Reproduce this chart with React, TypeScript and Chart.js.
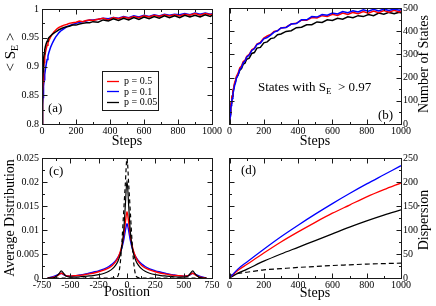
import React, { useEffect, useRef } from 'react';
import { Chart, registerables } from 'chart.js';
Chart.register(...registerables);

const SERIF = "'Liberation Serif', 'DejaVu Serif', serif";
const RED = '#ff0000';
const BLUE = '#0000ff';
const BLACK = '#000000';
const seriesLabels = ['p = 0.5', 'p = 0.1', 'p = 0.05'];

// ---- (a) and (b): time series ----
const steps = [0, 2, 4, 6, 8, 10, 13, 16, 20, 25, 30, 35, 40, 50, 60, 70, 80, 90, 100, 115, 130, 145, 160, 180, 200, 220, 240, 260, 280, 300, 330, 360, 390, 420, 450, 480, 510, 540, 570, 600, 630, 660, 690, 720, 750, 780, 810, 840, 870, 900, 930, 960, 990, 1000];

const entropyP05 = [0.800, 0.830, 0.856, 0.873, 0.886, 0.896, 0.907, 0.916, 0.924, 0.931, 0.937, 0.941, 0.945, 0.951, 0.956, 0.960, 0.963, 0.966, 0.968, 0.970, 0.972, 0.973, 0.975, 0.976, 0.977, 0.979, 0.978, 0.980, 0.981, 0.980, 0.982, 0.984, 0.981, 0.985, 0.983, 0.986, 0.984, 0.987, 0.985, 0.988, 0.986, 0.989, 0.987, 0.990, 0.988, 0.990, 0.988, 0.991, 0.989, 0.992, 0.989, 0.992, 0.990, 0.991];
const entropyP01 = [0.800, 0.818, 0.833, 0.846, 0.857, 0.866, 0.877, 0.886, 0.895, 0.904, 0.912, 0.918, 0.924, 0.933, 0.940, 0.946, 0.951, 0.955, 0.959, 0.963, 0.966, 0.969, 0.971, 0.973, 0.975, 0.977, 0.978, 0.979, 0.981, 0.981, 0.982, 0.984, 0.983, 0.985, 0.984, 0.987, 0.985, 0.988, 0.986, 0.989, 0.987, 0.990, 0.988, 0.991, 0.989, 0.991, 0.990, 0.992, 0.990, 0.993, 0.991, 0.993, 0.991, 0.992];
const entropyP005 = [0.800, 0.845, 0.873, 0.891, 0.904, 0.913, 0.922, 0.929, 0.935, 0.940, 0.944, 0.947, 0.950, 0.953, 0.956, 0.958, 0.960, 0.962, 0.964, 0.966, 0.968, 0.969, 0.970, 0.972, 0.972, 0.974, 0.975, 0.976, 0.976, 0.978, 0.977, 0.981, 0.979, 0.983, 0.980, 0.984, 0.981, 0.985, 0.982, 0.986, 0.983, 0.987, 0.984, 0.988, 0.985, 0.988, 0.985, 0.989, 0.986, 0.989, 0.986, 0.990, 0.987, 0.989];

const statesP05 = [0, 22, 42, 60, 76, 90, 110, 121, 142, 158, 178, 188, 205, 219, 242, 250, 269, 274, 291, 300, 320, 327, 345, 352, 370, 380, 386, 399, 402, 414, 417, 431, 434, 448, 447, 459, 457, 467, 463, 473, 468, 478, 472, 481, 475, 485, 478, 487, 480, 489, 482, 490, 483, 487];
const statesP01 = [0, 18, 36, 52, 67, 80, 99, 110, 131, 146, 167, 178, 196, 211, 235, 244, 264, 270, 288, 297, 317, 324, 342, 349, 367, 373, 383, 396, 402, 414, 416, 431, 433, 449, 449, 463, 461, 472, 469, 478, 474, 485, 480, 488, 483, 492, 486, 494, 487, 495, 489, 496, 490, 494];
const statesP005 = [0, 24, 45, 63, 78, 92, 111, 121, 141, 155, 174, 183, 199, 211, 232, 239, 258, 262, 279, 284, 304, 308, 327, 330, 350, 354, 368, 371, 385, 388, 399, 402, 415, 417, 428, 428, 440, 438, 449, 446, 456, 452, 462, 458, 467, 463, 472, 467, 478, 473, 481, 475, 482, 478];

const stepTicks = [0, 200, 400, 600, 800, 1000];
const entropyTicks = [0.8, 0.85, 0.9, 0.95, 1];
const statesTicks = [0, 100, 200, 300, 400, 500];

// ---- (c): distribution over positions ----
const positions = [-700, -660, -640, -620, -600, -580, -560, -540, -500, -450, -400, -350, -300, -250, -200, -160, -130, -100, -80, -60, -45, -30, -15, 0, 15, 30, 45, 60, 80, 100, 130, 160, 200, 250, 300, 350, 400, 450, 500, 540, 560, 580, 600, 620, 640, 660, 700];
const distP05 = [0, 0.0001, 0.0002, 0.0004, 0.0007, 0.0010, 0.0008, 0.0005, 0.0004, 0.0005, 0.0006, 0.0008, 0.0010, 0.0013, 0.0017, 0.0021, 0.0026, 0.0034, 0.0042, 0.0054, 0.0068, 0.0088, 0.0115, 0.0138, 0.0115, 0.0088, 0.0068, 0.0054, 0.0042, 0.0034, 0.0026, 0.0021, 0.0017, 0.0013, 0.0010, 0.0008, 0.0006, 0.0005, 0.0004, 0.0005, 0.0008, 0.0010, 0.0007, 0.0004, 0.0002, 0.0001, 0];
const distP01 = [0, 0.0002, 0.0004, 0.0006, 0.0008, 0.0010, 0.0007, 0.0005, 0.0004, 0.0005, 0.0007, 0.0009, 0.0012, 0.0015, 0.0019, 0.0024, 0.0029, 0.0036, 0.0043, 0.0052, 0.0063, 0.0078, 0.0098, 0.0113, 0.0098, 0.0078, 0.0063, 0.0052, 0.0043, 0.0036, 0.0029, 0.0024, 0.0019, 0.0015, 0.0012, 0.0009, 0.0007, 0.0005, 0.0004, 0.0005, 0.0007, 0.0010, 0.0008, 0.0006, 0.0004, 0.0002, 0];
const distP005 = [0, 0, 0.0001, 0.0004, 0.0009, 0.0015, 0.0010, 0.0004, 0.0002, 0.0002, 0.0003, 0.0004, 0.0005, 0.0007, 0.0010, 0.0014, 0.0019, 0.0027, 0.0035, 0.0048, 0.0065, 0.0095, 0.0150, 0.0203, 0.0150, 0.0095, 0.0065, 0.0048, 0.0035, 0.0027, 0.0019, 0.0014, 0.0010, 0.0007, 0.0005, 0.0004, 0.0003, 0.0002, 0.0002, 0.0004, 0.0010, 0.0015, 0.0009, 0.0004, 0.0001, 0, 0];
const distRef = [0, 0, 0, 0, 0, 0, 0, 0, 0, 0, 0, 0, 0, 0, 0, 0, 0, 0.0001, 0.0004, 0.0030, 0.0075, 0.0135, 0.0195, 0.0250, 0.0195, 0.0135, 0.0075, 0.0030, 0.0004, 0.0001, 0, 0, 0, 0, 0, 0, 0, 0, 0, 0, 0, 0, 0, 0, 0, 0, 0];
const positionTicks = [-750, -500, -250, 0, 250, 500, 750];
const distTicks = [0, 0.005, 0.01, 0.015, 0.02, 0.025];

// ---- (d): dispersion ----
const dispSteps = [0, 50, 100, 200, 300, 400, 500, 600, 700, 800, 900, 1000];
const dispP05 = [0, 16, 28, 52, 75, 96, 116, 135, 152, 169, 184, 198];
const dispP01 = [0, 19, 33, 60, 86, 110, 133, 155, 176, 196, 215, 234];
const dispP005 = [0, 10, 18, 35, 50, 64, 78, 92, 106, 119, 131, 142];
const dispRef = [5, 9.5, 12, 17, 19.5, 22, 24, 26, 27.5, 29, 30, 31];
const dispTicks = [0, 50, 100, 150, 200, 250];

const W = 436;
const H = 306;
const X_AXIS_H = 20;
const Y_AXIS_W = 30;

type Part = { t: string; size: number; dy?: number };

function rich(ctx: CanvasRenderingContext2D, parts: Part[], x: number, y: number, align: 'left' | 'center', rotate = false) {
  ctx.save();
  ctx.translate(x, y);
  if (rotate) ctx.rotate(-Math.PI / 2);
  ctx.textAlign = 'left';
  ctx.textBaseline = 'alphabetic';
  ctx.fillStyle = '#000';
  let total = 0;
  for (const p of parts) {
    ctx.font = `${p.size}px ${SERIF}`;
    total += ctx.measureText(p.t).width;
  }
  let cx = align === 'center' ? -total / 2 : 0;
  for (const p of parts) {
    ctx.font = `${p.size}px ${SERIF}`;
    ctx.fillText(p.t, cx, p.dy || 0);
    cx += ctx.measureText(p.t).width;
  }
  ctx.restore();
}

function fmt(v: number) {
  return String(Number(Number(v).toFixed(6)));
}

function midpoints(t: number[]) {
  const r: number[] = [];
  for (let i = 0; i < t.length - 1; i++) r.push((t[i] + t[i + 1]) / 2);
  return r;
}

function series(xs: number[], ys: number[], color: string, label: string, order: number, opts: any = {}) {
  return {
    label,
    data: xs.map((x, i) => ({ x, y: ys[i] })),
    borderColor: color,
    backgroundColor: color,
    borderWidth: opts.width ?? 1.2,
    borderDash: opts.dash ?? [],
    pointRadius: 0,
    fill: false,
    tension: 0,
    cubicInterpolationMode: opts.smooth ? 'monotone' : 'default',
    order,
  };
}

type Spec = {
  area: { l: number; t: number; r: number; b: number };
  yPos: 'left' | 'right';
  xMin: number; xMax: number; yMin: number; yMax: number;
  xTicks: number[]; yTicks: number[];
  datasets: any[];
  draw: (ctx: CanvasRenderingContext2D, chart: any) => void;
};

function makeConfig(s: Spec): any {
  const pad = s.yPos === 'left'
    ? { left: s.area.l - Y_AXIS_W, right: W - s.area.r, top: s.area.t, bottom: H - s.area.b - X_AXIS_H }
    : { left: s.area.l, right: W - s.area.r - Y_AXIS_W, top: s.area.t, bottom: H - s.area.b - X_AXIS_H };
  const xMinor = midpoints(s.xTicks);
  const yMinor = midpoints(s.yTicks);
  const decor = {
    id: 'decor',
    afterDatasetsDraw(chart: any) {
      const { ctx, chartArea: ca, scales } = chart;
      const xs = scales.x;
      const ys = scales.y;
      ctx.save();
      const L = Math.floor(ca.left) + 0.5;
      const R = Math.floor(ca.right) + 0.5;
      const T = Math.floor(ca.top) + 0.5;
      const B = Math.floor(ca.bottom) + 0.5;
      ctx.strokeStyle = '#1a1a1a';
      ctx.lineWidth = 1;
      ctx.setLineDash([]);
      ctx.strokeRect(L, T, R - L, B - T);
      ctx.beginPath();
      const xt = (vals: number[], len: number) => {
        for (const v of vals) {
          const p = Math.round(xs.getPixelForValue(v)) + 0.5;
          ctx.moveTo(p, B); ctx.lineTo(p, B - len);
          ctx.moveTo(p, T); ctx.lineTo(p, T + len);
        }
      };
      const yt = (vals: number[], len: number) => {
        for (const v of vals) {
          const p = Math.round(ys.getPixelForValue(v)) + 0.5;
          ctx.moveTo(L, p); ctx.lineTo(L + len, p);
          ctx.moveTo(R, p); ctx.lineTo(R - len, p);
        }
      };
      xt(s.xTicks, 5); xt(xMinor, 2.5);
      yt(s.yTicks, 5); yt(yMinor, 2.5);
      ctx.stroke();
      s.draw(ctx, chart);
      ctx.restore();
    },
  };
  const tickFont = { family: SERIF, size: 10 };
  return {
    type: 'line',
    data: { datasets: s.datasets },
    plugins: [decor],
    options: {
      responsive: false,
      animation: false,
      events: [],
      layout: { padding: pad },
      plugins: { legend: { display: false }, tooltip: { enabled: false }, title: { display: false } },
      scales: {
        x: {
          type: 'linear', position: 'bottom', min: s.xMin, max: s.xMax,
          grid: { display: false, drawTicks: false }, border: { display: false },
          ticks: { autoSkip: false, maxRotation: 0, padding: 1, color: '#000', font: tickFont, callback: (v: any) => fmt(v) },
          afterBuildTicks: (sc: any) => { sc.ticks = s.xTicks.map((v) => ({ value: v })); },
          afterFit: (sc: any) => { sc.height = X_AXIS_H; },
        },
        y: {
          type: 'linear', position: s.yPos, min: s.yMin, max: s.yMax,
          grid: { display: false, drawTicks: false }, border: { display: false },
          ticks: { autoSkip: false, padding: s.yPos === 'left' ? 3 : 2, color: '#000', font: tickFont, callback: (v: any) => fmt(v) },
          afterBuildTicks: (sc: any) => { sc.ticks = s.yTicks.map((v) => ({ value: v })); },
          afterFit: (sc: any) => { sc.width = Y_AXIS_W; },
        },
      },
    },
  };
}

function drawLegend(ctx: CanvasRenderingContext2D, chart: any) {
  const bx = 102, by = 71, bw = 56, bh = 39;
  ctx.save();
  ctx.fillStyle = '#fff';
  ctx.fillRect(bx, by, bw, bh);
  ctx.strokeStyle = '#1a1a1a';
  ctx.lineWidth = 1;
  ctx.strokeRect(bx + 0.5, by + 0.5, bw, bh);
  const items = seriesLabels.map((lab) => chart.data.datasets.find((d: any) => d.label === lab)).filter(Boolean);
  items.forEach((d: any, i: number) => {
    const y = by + 9.5 + i * 10.5;
    ctx.strokeStyle = d.borderColor;
    ctx.lineWidth = 1.3;
    ctx.beginPath();
    ctx.moveTo(107, Math.round(y) + 0.5);
    ctx.lineTo(119, Math.round(y) + 0.5);
    ctx.stroke();
    rich(ctx, [{ t: d.label, size: 10 }], 124, y + 3.5, 'left');
  });
  ctx.restore();
}

export default function App() {
  const refs = [useRef<HTMLCanvasElement>(null), useRef<HTMLCanvasElement>(null), useRef<HTMLCanvasElement>(null), useRef<HTMLCanvasElement>(null)];

  useEffect(() => {
    const specs: Spec[] = [
      {
        area: { l: 42, t: 5, r: 212, b: 124 }, yPos: 'left',
        xMin: 0, xMax: 1000, yMin: 0.8, yMax: 1, xTicks: stepTicks, yTicks: entropyTicks,
        datasets: [
          series(steps, entropyP05, RED, seriesLabels[0], 1, { width: 1.5 }),
          series(steps, entropyP01, BLUE, seriesLabels[1], 2, { width: 1.5 }),
          series(steps, entropyP005, BLACK, seriesLabels[2], 0, { width: 1.5 }),
        ],
        draw: (ctx, chart) => {
          drawLegend(ctx, chart);
          rich(ctx, [{ t: '(a)', size: 13 }], 48, 112, 'left');
          rich(ctx, [{ t: 'Steps', size: 14 }], 127, 145, 'center');
          rich(ctx, [{ t: '< S', size: 15 }, { t: 'E', size: 10, dy: 3 }, { t: ' >', size: 15 }], 15, 52, 'center', true);
        },
      },
      {
        area: { l: 229.5, t: 5, r: 401, b: 124 }, yPos: 'right',
        xMin: 0, xMax: 1000, yMin: 0, yMax: 500, xTicks: stepTicks, yTicks: statesTicks,
        datasets: [
          series(steps, statesP05, RED, seriesLabels[0], 1, { width: 1.5 }),
          series(steps, statesP01, BLUE, seriesLabels[1], 0, { width: 1.5 }),
          series(steps, statesP005, BLACK, seriesLabels[2], 2, { width: 1.5 }),
        ],
        draw: (ctx) => {
          rich(ctx, [{ t: '(b)', size: 13 }], 378, 119, 'left');
          rich(ctx, [{ t: 'States with S', size: 13 }, { t: 'E', size: 9, dy: 3 }, { t: '  > 0.97', size: 13 }], 258, 91, 'left');
          rich(ctx, [{ t: 'Steps', size: 14 }], 315, 145, 'center');
          rich(ctx, [{ t: 'Number of States', size: 14 }], 428, 64, 'center', true);
        },
      },
      {
        area: { l: 42, t: 158, r: 212, b: 278 }, yPos: 'left',
        xMin: -750, xMax: 750, yMin: 0, yMax: 0.025, xTicks: positionTicks, yTicks: distTicks,
        datasets: [
          series(positions, distP05, RED, seriesLabels[0], 2, { smooth: true, width: 1.4 }),
          series(positions, distP01, BLUE, seriesLabels[1], 3, { smooth: true, width: 1.4 }),
          series(positions, distP005, BLACK, seriesLabels[2], 1, { smooth: true, width: 1.2 }),
          series(positions, distRef, BLACK, 'reference', 0, { smooth: true, width: 1.2, dash: [4, 3] }),
        ],
        draw: (ctx) => {
          rich(ctx, [{ t: '(c)', size: 13 }], 49, 175, 'left');
          rich(ctx, [{ t: 'Position', size: 14 }], 127, 296, 'center');
          rich(ctx, [{ t: 'Average Distribution', size: 14 }], 14, 218, 'center', true);
        },
      },
      {
        area: { l: 229.5, t: 158, r: 401, b: 278 }, yPos: 'right',
        xMin: 0, xMax: 1000, yMin: 0, yMax: 250, xTicks: stepTicks, yTicks: dispTicks,
        datasets: [
          series(dispSteps, dispP05, RED, seriesLabels[0], 1, { smooth: true, width: 1.3 }),
          series(dispSteps, dispP01, BLUE, seriesLabels[1], 0, { smooth: true, width: 1.3 }),
          series(dispSteps, dispP005, BLACK, seriesLabels[2], 2, { smooth: true, width: 1.3 }),
          series(dispSteps, dispRef, BLACK, 'reference', 3, { smooth: true, width: 1.2, dash: [5, 3] }),
        ],
        draw: (ctx) => {
          rich(ctx, [{ t: '(d)', size: 13 }], 241, 174, 'left');
          rich(ctx, [{ t: 'Steps', size: 14 }], 315, 297, 'center');
          rich(ctx, [{ t: 'Dispersion', size: 14 }], 428, 220, 'center', true);
        },
      },
    ];
    const charts = specs.map((s, i) => new Chart(refs[i].current as HTMLCanvasElement, makeConfig(s)));
    return () => charts.forEach((c) => c.destroy());
  }, []);

  return (
    <div style={{ position: 'absolute', left: 0, top: 0, width: W, height: H, background: '#fff' }}>
      {refs.map((r, i) => (
        <canvas key={i} ref={r} width={W} height={H} style={{ position: 'absolute', left: 0, top: 0, width: W, height: H }} />
      ))}
    </div>
  );
}
